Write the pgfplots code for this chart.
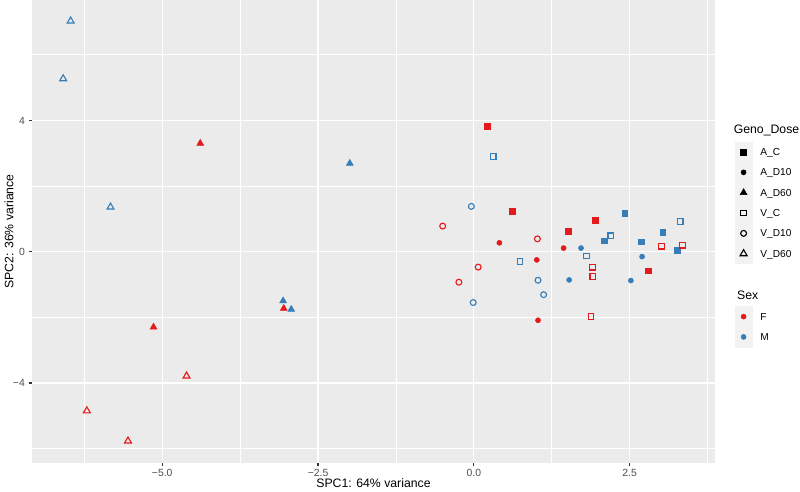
\documentclass[border=0pt]{standalone}
\usepackage{pgfplots}
\pgfplotsset{compat=1.18}
\usepackage{fontspec}
\setmainfont{Liberation Sans}
\definecolor{cF}{HTML}{E41A1C}
\definecolor{cM}{HTML}{377EB8}
\definecolor{panel}{HTML}{EBEBEB}
\definecolor{keybg}{HTML}{F2F2F2}
\definecolor{ticklab}{HTML}{4D4D4D}
\definecolor{tickc}{HTML}{333333}
\newcommand{\keyimg}[1]{\fill[keybg] (-6.25pt,-4.725pt) rectangle (6.25pt,10.125pt); \draw[#1] plot[only marks] coordinates {(0pt,2.7pt)};}
\newcommand{\tfont}{\fontsize{9.2}{11}\selectfont}
\newcommand{\lfont}{\fontsize{7.6}{9}\selectfont}
\begin{document}
\begin{tikzpicture}
\path[use as bounding box] (0,0) rectangle (600pt,369pt);
\begin{axis}[
  at={(24pt,21.75pt)}, anchor=south west,
  scale only axis, width=512.25pt, height=347.25pt,
  xmin=-7.09, xmax=3.87, ymin=-6.44, ymax=7.67,
  axis background/.style={fill=panel},
  axis line style={draw=none},
  xtick={-5,-2.5,0,2.5}, xticklabels={−5.0,−2.5,0.0,2.5},
  ytick={-4,0,4}, yticklabels={−4,0,4},
  minor xtick={-6.25,-3.75,-1.25,1.25,3.75},
  minor ytick={-6,-2,2,6},
  grid=both,
  major grid style={white, line width=0.93pt},
  minor grid style={white, line width=0.46pt},
  tick align=outside, major tick length=2.4pt, minor tick length=0pt,
  tick style={tickc, line width=0.9pt},
  xtick pos=bottom, ytick pos=left,
  xticklabel style={font=\fontsize{7.8}{9}\selectfont, text=ticklab, inner sep=0pt, anchor=north, yshift=-2.2pt},
  yticklabel style={font=\fontsize{7.8}{9}\selectfont, text=ticklab, inner sep=0pt, anchor=east, xshift=-2.8pt},
  every axis x label/.style={at={(axis description cs:0.5,-0.054)}, anchor=base, font=\tfont},
  every axis y label/.style={at={(axis description cs:-0.0273,0.5)}, rotate=90, anchor=base, font=\tfont},
  xlabel={SPC1: 64\% variance},
  ylabel={SPC2: 36\% variance},
  legend style={at={(1.0293,0.740)}, anchor=north west, draw=none, fill=none,
    inner sep=0pt, outer sep=0pt, row sep=0pt, column sep=6.2pt,
    nodes={inner sep=0pt, text height=10.1pt, text depth=4.75pt, font=\lfont, anchor=base west}},
  legend cell align=left,
]
% A_C F
\addplot[only marks, mark=square*, cF, mark size=2.15pt, forget plot] coordinates {(0.21,3.83) (0.62,1.23) (1.95,0.96) (1.52,0.62) (2.80,-0.58)};
% A_C M
\addplot[only marks, mark=square*, cM, mark size=2.15pt, forget plot] coordinates {(2.42,1.16) (3.03,0.59) (2.09,0.33) (2.69,0.30) (3.26,0.05)};
% A_D10 F
\addplot[only marks, mark=*, cF, mark size=1.9pt, forget plot] coordinates {(0.41,0.27) (1.44,0.11) (1.01,-0.25) (1.03,-2.09)};
% A_D10 M
\addplot[only marks, mark=*, cM, mark size=1.9pt, forget plot] coordinates {(1.72,0.11) (2.70,-0.15) (1.53,-0.86) (2.52,-0.88)};
% A_D60 F
\addplot[only marks, mark=triangle*, cF, mark size=3.0pt, forget plot] coordinates {(-4.39,3.30) (-3.05,-1.73) (-5.14,-2.30)};
% A_D60 M
\addplot[only marks, mark=triangle*, cM, mark size=3.0pt, forget plot] coordinates {(-1.99,2.69) (-3.06,-1.50) (-2.93,-1.76)};
% V_C F
\addplot[only marks, mark=square, cF, mark size=2.15pt, line width=0.85pt, forget plot] coordinates {(3.01,0.17) (3.35,0.20) (1.90,-0.47) (1.91,-0.75) (1.88,-1.98)};
% V_C M
\addplot[only marks, mark=square, cM, mark size=2.15pt, line width=0.85pt, forget plot] coordinates {(0.31,2.90) (3.31,0.92) (2.20,0.48) (1.81,-0.13) (0.74,-0.30)};
% V_D10 F
\addplot[only marks, mark=o, cF, mark size=2.2pt, line width=0.85pt, forget plot] coordinates {(-0.50,0.78) (1.02,0.39) (0.07,-0.47) (-0.24,-0.93)};
% V_D10 M
\addplot[only marks, mark=o, cM, mark size=2.2pt, line width=0.85pt, forget plot] coordinates {(-0.04,1.38) (1.03,-0.87) (1.12,-1.31) (-0.01,-1.55)};
% V_D60 F
\addplot[only marks, mark=triangle, cF, mark size=3.0pt, line width=0.85pt, forget plot] coordinates {(-4.61,-3.79) (-6.21,-4.85) (-5.55,-5.77)};
% V_D60 M
\addplot[only marks, mark=triangle, cM, mark size=3.0pt, line width=0.85pt, forget plot] coordinates {(-6.47,7.03) (-6.59,5.27) (-5.83,1.36)};

\addlegendimage{empty legend}
\addlegendentry[text depth=6pt, font=\tfont]{\hspace*{-20pt}Geno\_Dose}
\addlegendimage{legend image code/.code={\keyimg{black, mark=square*, mark size=2.15pt}}}
\addlegendentry{A\_C}
\addlegendimage{legend image code/.code={\keyimg{black, mark=*, mark size=1.9pt}}}
\addlegendentry{A\_D10}
\addlegendimage{legend image code/.code={\keyimg{black, mark=triangle*, mark size=3.0pt}}}
\addlegendentry{A\_D60}
\addlegendimage{legend image code/.code={\keyimg{black, mark=square, mark size=2.15pt, line width=0.85pt}}}
\addlegendentry{V\_C}
\addlegendimage{legend image code/.code={\keyimg{black, mark=o, mark size=2.2pt, line width=0.85pt}}}
\addlegendentry{V\_D10}
\addlegendimage{legend image code/.code={\keyimg{black, mark=triangle, mark size=3.0pt, line width=0.85pt}}}
\addlegendentry{V\_D60}
\addlegendimage{empty legend}
\addlegendentry[text height=26.45pt, text depth=5.5pt, font=\tfont]{\hspace*{-20pt}Sex}
\addlegendimage{legend image code/.code={\keyimg{cF, mark=*, mark size=1.9pt}}}
\addlegendentry{F}
\addlegendimage{legend image code/.code={\keyimg{cM, mark=*, mark size=1.9pt}}}
\addlegendentry{M}
\end{axis}
\end{tikzpicture}
\end{document}
